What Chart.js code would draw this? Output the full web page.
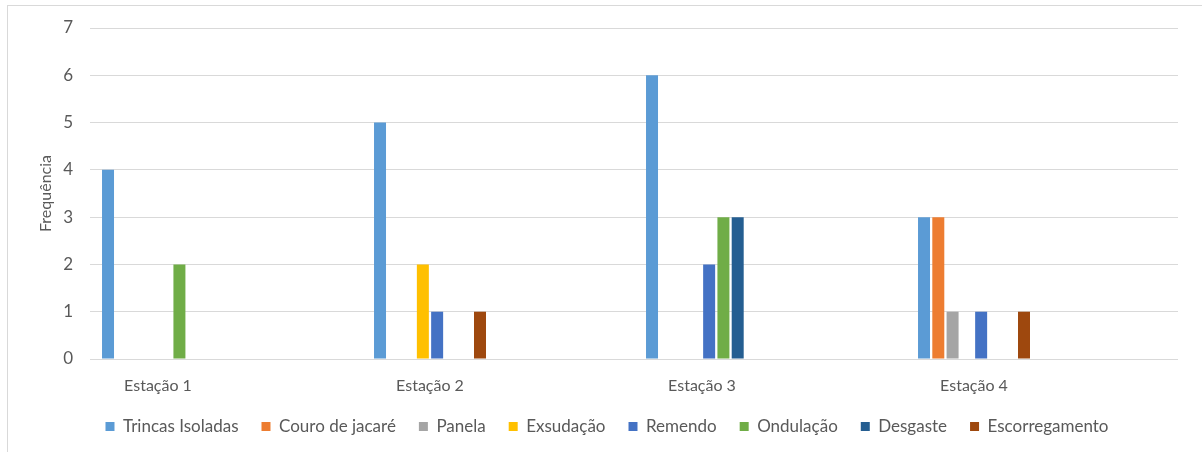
<!DOCTYPE html>
<html lang="pt">
<head>
<meta charset="utf-8">
<title>Frequência de defeitos por estação</title>
<script src="https://cdn.jsdelivr.net/npm/chart.js@4.4.1/dist/chart.umd.min.js"></script>
<style>
  html, body { margin: 0; padding: 0; background: #ffffff; }
  #wrap { position: relative; width: 1202px; height: 452px; }
  canvas { display: block; }
</style>
</head>
<body>
<div id="wrap"><canvas id="chart" width="1202" height="452"></canvas></div>
<script>
// Survey stations (x categories)
const stations = ['Estação 1', 'Estação 2', 'Estação 3', 'Estação 4'];

// Occurrences of each pavement defect per station
const trincasIsoladas = [4, 5, 6, 3];
const couroDeJacare   = [0, 0, 0, 3];
const panela          = [0, 0, 0, 1];
const exsudacao       = [0, 2, 0, 0];
const remendo         = [0, 1, 2, 1];
const ondulacao       = [2, 0, 3, 0];
const desgaste        = [0, 0, 3, 0];
const escorregamento  = [0, 1, 0, 1];

// Y axis ticks
const yTicks = [0, 1, 2, 3, 4, 5, 6, 7];

const series = [
  { label: 'Trincas Isoladas', values: trincasIsoladas, color: '#5B9BD5' },
  { label: 'Couro de jacaré',  values: couroDeJacare,   color: '#ED7D31' },
  { label: 'Panela',           values: panela,          color: '#A5A5A5' },
  { label: 'Exsudação',        values: exsudacao,       color: '#FFC000' },
  { label: 'Remendo',          values: remendo,         color: '#4472C4' },
  { label: 'Ondulação',        values: ondulacao,       color: '#70AD47' },
  { label: 'Desgaste',         values: desgaste,        color: '#255E91' },
  { label: 'Escorregamento',   values: escorregamento,  color: '#9E480E' }
];

const textColor = '#595959';
const gridColor = '#D9D9D9';
const fontFamily = 'Lato, "Open Sans", sans-serif';

// White background and thin frame around the chart
const framePlugin = {
  id: 'frame',
  beforeDraw(chart) {
    const ctx = chart.ctx;
    ctx.save();
    ctx.fillStyle = '#ffffff';
    ctx.fillRect(0, 0, chart.width, chart.height);
    ctx.strokeStyle = '#D9D9D9';
    ctx.lineWidth = 1;
    ctx.strokeRect(7.5, 5.5, chart.width, chart.height);
    ctx.restore();
  }
};

new Chart(document.getElementById('chart'), {
  type: 'bar',
  data: {
    datasets: series.map(s => ({
      label: s.label,
      data: s.values.map((v, i) => ({ x: i, y: v })),
      backgroundColor: s.color,
      borderWidth: 0,
      categoryPercentage: 0.42,
      barPercentage: 0.84
    }))
  },
  options: {
    responsive: false,
    animation: false,
    devicePixelRatio: 1,
    layout: { padding: { left: 36, right: 24, top: 28, bottom: 12 } },
    plugins: {
      tooltip: { enabled: false },
      legend: {
        position: 'bottom',
        maxHeight: 45,
        labels: {
          boxWidth: 9,
          boxHeight: 9,
          padding: 23,
          color: textColor,
          font: { family: fontFamily, size: 17 }
        }
      }
    },
    scales: {
      x: {
        type: 'linear',
        offset: false,
        min: -0.25,
        max: stations.length - 0.25,
        grid: { display: false },
        border: { display: false },
        afterBuildTicks(scale) {
          scale.ticks = stations.map((_, i) => ({ value: i }));
        },
        afterFit(scale) { scale.height = 36; },
        ticks: {
          autoSkip: false,
          maxRotation: 0,
          padding: 9,
          color: textColor,
          font: { family: fontFamily, size: 16 },
          callback: value => stations[value]
        }
      },
      y: {
        min: yTicks[0],
        max: yTicks[yTicks.length - 1],
        afterBuildTicks(scale) {
          scale.ticks = yTicks.map(v => ({ value: v }));
        },
        afterFit(scale) { scale.width = 54; },
        grid: { color: gridColor, lineWidth: 1, drawTicks: false },
        border: { display: false },
        ticks: {
          padding: 17,
          color: textColor,
          font: { family: fontFamily, size: 17 }
        },
        title: {
          display: true,
          text: 'Frequência',
          color: textColor,
          padding: { top: 0, bottom: 0 },
          font: { family: fontFamily, size: 16 }
        }
      }
    }
  },
  plugins: [framePlugin]
});
</script>
</body>
</html>
